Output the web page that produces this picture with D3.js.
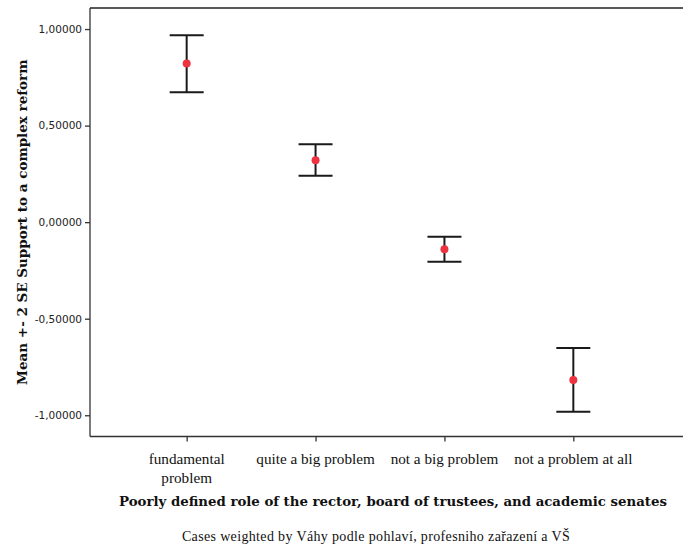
<!DOCTYPE html>
<html>
<head>
<meta charset="utf-8">
<script src="https://cdn.jsdelivr.net/npm/d3@7"></script>
<style>
  body { margin: 0; background: #fff; }
  svg { display: block; }
</style>
</head>
<body>
<svg width="683" height="547"></svg>
<script>
// categories and the error bar values (mean, mean +- 2 SE)
const categories = ["fundamental problem", "quite a big problem", "not a big problem", "not a problem at all"];
const means = [0.821, 0.321, -0.140, -0.818];
const upper = [0.968, 0.404, -0.076, -0.652];
const lower = [0.673, 0.240, -0.205, -0.982];
const yTicks = [1, 0.5, 0, -0.5, -1];

let svg = d3.select("svg"),
    width = +svg.attr("width"),
    height = +svg.attr("height");

const plotLeft = 90, plotTop = 8, plotBottom = 436.5, plotRight = 670;

let x = d3.scalePoint()
    .domain(categories)
    .range([plotLeft, plotRight])
    .padding(0.75);

let y = d3.scaleLinear()
    .domain([-1.11, 1.109])
    .range([plotBottom, plotTop]);

const fmt = v => d3.format(".5f")(v).replace(".", ",").replace("−", "-");

// frame: top and left lines, no right border
svg.append("line")
    .attr("x1", plotLeft).attr("x2", width)
    .attr("y1", plotTop).attr("y2", plotTop)
    .attr("stroke", "#222").attr("stroke-width", 1.3);

// y axis
let yAxis = svg.append("g")
    .attr("transform", `translate(${plotLeft},0)`)
    .call(d3.axisLeft(y).tickValues(yTicks).tickSize(5).tickSizeOuter(0).tickFormat(fmt));
yAxis.select(".domain").attr("stroke", "#333").attr("stroke-width", 1.3)
    .attr("d", `M0,${plotTop}V${plotBottom}`);
yAxis.selectAll(".tick line").attr("stroke", "#333").attr("stroke-width", 1.3);
yAxis.selectAll(".tick text")
    .attr("x", -8)
    .style("font-family", "DejaVu Sans")
    .style("font-size", "10.5px")
    .attr("fill", "#222");

// x axis
let xAxis = svg.append("g")
    .attr("transform", `translate(0,${plotBottom})`)
    .call(d3.axisBottom(x).tickSize(5).tickSizeOuter(0).tickFormat(""));
xAxis.select(".domain").attr("stroke", "#333").attr("stroke-width", 1.3)
    .attr("d", `M${plotLeft},0H${width}`);
xAxis.selectAll(".tick line").attr("stroke", "#333").attr("stroke-width", 1.3);

// category labels (first one wraps onto two lines)
const labelLines = d => d === "fundamental problem" ? ["fundamental", "problem"] : [d];
svg.append("g").selectAll("text")
    .data(categories)
    .enter().append("text")
        .attr("x", d => x(d))
        .attr("y", 464)
        .attr("text-anchor", "middle")
        .style("font-family", "Liberation Serif")
        .style("font-size", "15.2px")
        .attr("fill", "#111")
        .each(function(d) {
            d3.select(this).selectAll("tspan")
                .data(labelLines(d))
                .enter().append("tspan")
                    .attr("x", x(d))
                    .attr("dy", (l, i) => i === 0 ? 0 : 19)
                    .text(l => l);
        });

// error bars
let bars = svg.append("g").selectAll("g")
    .data(categories)
    .enter().append("g");

bars.append("line")
    .attr("x1", d => x(d)).attr("x2", d => x(d))
    .attr("y1", (d, i) => y(upper[i])).attr("y2", (d, i) => y(lower[i]))
    .attr("stroke", "#1a1a1a").attr("stroke-width", 2);

[upper, lower].forEach(arr => {
    bars.append("line")
        .attr("x1", d => x(d) - 17).attr("x2", d => x(d) + 17)
        .attr("y1", (d, i) => y(arr[i])).attr("y2", (d, i) => y(arr[i]))
        .attr("stroke", "#1a1a1a").attr("stroke-width", 2);
});

bars.append("circle")
    .attr("cx", d => x(d))
    .attr("cy", (d, i) => y(means[i]))
    .attr("r", 4)
    .attr("fill", "#ee3340");

// axis titles
svg.append("text")
    .attr("transform", `translate(27,${(plotTop + plotBottom) / 2}) rotate(-90)`)
    .attr("text-anchor", "middle")
    .style("font-family", "DejaVu Serif")
    .style("font-weight", "bold")
    .style("font-size", "13.5px")
    .attr("fill", "#111")
    .text("Mean +- 2 SE Support to a complex reform");

svg.append("text")
    .attr("x", 393)
    .attr("y", 506)
    .attr("text-anchor", "middle")
    .style("font-family", "DejaVu Serif")
    .style("font-weight", "bold")
    .style("font-size", "13.3px")
    .attr("fill", "#111")
    .text("Poorly defined role of the rector, board of trustees, and academic senates");

svg.append("text")
    .attr("x", 376)
    .attr("y", 540.5)
    .attr("text-anchor", "middle")
    .style("font-family", "Liberation Serif")
    .style("font-size", "14px")
    .style("letter-spacing", "0.35px")
    .attr("fill", "#111")
    .text("Cases weighted by Váhy podle pohlaví, profesniho zařazení a VŠ");
</script>
</body>
</html>
